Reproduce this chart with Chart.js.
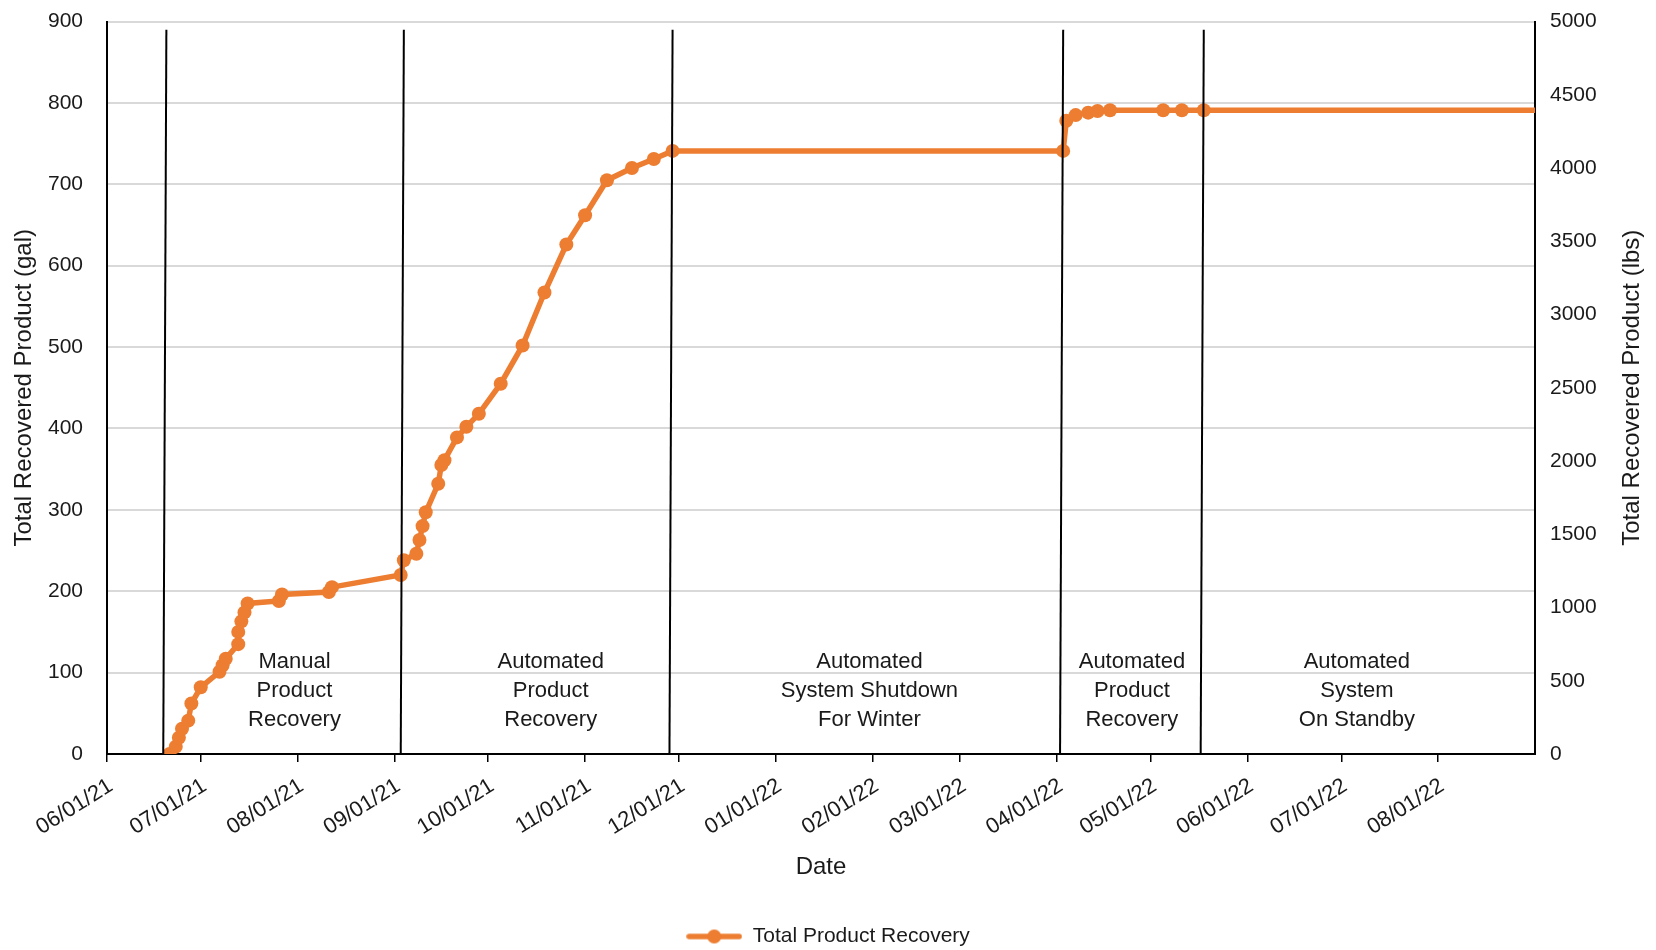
<!DOCTYPE html>
<html>
<head>
<meta charset="utf-8">
<script src="https://cdn.jsdelivr.net/npm/chart.js@4.4.0/dist/chart.umd.min.js"></script>
<style>
  html, body { margin: 0; padding: 0; background: #ffffff; }
  #wrap { width: 1656px; height: 950px; }
</style>
</head>
<body>
<div id="wrap"><canvas id="c" width="1656" height="950"></canvas></div>
<script>
// ---------------- DATA ----------------
const axisStartDate = '06/01/21';
const axisEndDate = '09/01/22';
const tickLabels = ['06/01/21','07/01/21','08/01/21','09/01/21','10/01/21','11/01/21','12/01/21',
                    '01/01/22','02/01/22','03/01/22','04/01/22','05/01/22','06/01/22','07/01/22','08/01/22'];

const seriesName = 'Total Product Recovery';
const recoveryDates = [
  '06/21/21','06/23/21','06/24/21','06/25/21','06/27/21','06/28/21','07/01/21','07/07/21','07/08/21','07/09/21',
  '07/13/21','07/13/21','07/14/21','07/15/21','07/16/21','07/26/21','07/27/21','08/11/21','08/12/21',
  '09/03/21','09/04/21','09/08/21','09/09/21','09/10/21','09/11/21','09/15/21','09/16/21','09/17/21',
  '09/21/21','09/24/21','09/28/21','10/05/21','10/12/21','10/19/21','10/26/21','11/01/21','11/08/21',
  '11/16/21','11/23/21','11/29/21','04/03/22','04/04/22','04/07/22','04/11/22','04/14/22','04/18/22',
  '05/05/22','05/11/22','05/18/22','09/01/22'
];
const recoveryGallons = [
  0, 9, 20, 31, 41, 62, 82, 101, 109, 117,
  135, 150, 163, 174, 185, 188, 196, 199, 205,
  220, 238, 246, 263, 280, 297, 332, 355, 361,
  389, 402, 418, 455, 502, 567, 626, 662, 705,
  720, 731, 741, 741, 778, 785, 788, 790, 791,
  791, 791, 791, 791
];

// phase divider lines (date at the bottom, date at the top, top value in gal)
const dividerBottomDates = ['06/19/21','09/03/21','11/28/21','04/02/22','05/17/22'];
const dividerTopDates    = ['06/20/21','09/04/21','11/29/21','04/03/22','05/18/22'];
const dividerTopGallons  = 890;

// phase labels
const phaseLabels = [
  ['Manual','Product','Recovery'],
  ['Automated','Product','Recovery'],
  ['Automated','System Shutdown','For Winter'],
  ['Automated','Product','Recovery'],
  ['Automated','System','On Standby']
];
const phaseLabelDates = ['07/31/21','10/21/21','01/31/22','04/25/22','07/06/22'];
const phaseLabelGallons = 113;

const leftAxisTitle = 'Total Recovered Product (gal)';
const rightAxisTitle = 'Total Recovered Product (lbs)';
const xAxisTitle = 'Date';
const galMax = 900, galStep = 100;
const lbsMax = 5000, lbsStep = 500;

// ---------------- HELPERS ----------------
function toDay(s) {
  const [m, d, y] = s.split('/').map(Number);
  const t = Date.UTC(2000 + y, m - 1, d);
  const [m0, d0, y0] = axisStartDate.split('/').map(Number);
  return Math.round((t - Date.UTC(2000 + y0, m0 - 1, d0)) / 86400000);
}
const FONT = "'Liberation Sans', Arial, sans-serif";
const ORANGE = '#ED7D31';
const TEXT = '#1a1a1a';

const mainData = recoveryDates.map((d, i) => ({ x: toDay(d), y: recoveryGallons[i] }));
const lastIdx = mainData.length - 1;

const datasets = [{
  label: seriesName,
  data: mainData,
  borderColor: ORANGE,
  backgroundColor: ORANGE,
  borderWidth: 5.5,
  pointRadius: ctx => ctx.dataIndex === lastIdx ? 0 : 7,
  pointHoverRadius: 7,
  pointBackgroundColor: ORANGE,
  pointBorderColor: ORANGE,
  pointBorderWidth: 0,
  tension: 0,
  yAxisID: 'y',
  order: 2
}];
dividerBottomDates.forEach((b, i) => {
  datasets.push({
    label: 'divider' + i,
    data: [{ x: toDay(b), y: 0 }, { x: toDay(dividerTopDates[i]), y: dividerTopGallons }],
    borderColor: '#000000',
    borderWidth: 2,
    pointRadius: 0,
    tension: 0,
    yAxisID: 'y',
    order: 1
  });
});

// legend symbol: line with a circle marker
const sym = document.createElement('canvas');
sym.width = 56; sym.height = 16;
(function () {
  const g = sym.getContext('2d');
  g.strokeStyle = ORANGE; g.lineWidth = 5.5; g.lineCap = 'round';
  g.beginPath(); g.moveTo(3, 8); g.lineTo(53, 8); g.stroke();
  g.fillStyle = ORANGE; g.beginPath(); g.arc(28, 8, 7, 0, Math.PI * 2); g.fill();
})();

const textPlugin = {
  id: 'phaseText',
  afterDatasetsDraw(chart) {
    const { ctx, scales } = chart;
    const x = scales.x, y = scales.y;
    ctx.save();
    ctx.fillStyle = TEXT;
    ctx.font = '22px ' + FONT;
    ctx.textAlign = 'center';
    ctx.textBaseline = 'middle';
    phaseLabels.forEach((lines, i) => {
      const px = x.getPixelForValue(toDay(phaseLabelDates[i]));
      const py = y.getPixelForValue(phaseLabelGallons);
      lines.forEach((t, j) => ctx.fillText(t, px, py + j * 29));
    });
    // right axis title, reading bottom to top
    const ry = (chart.chartArea.top + chart.chartArea.bottom) / 2;
    ctx.translate(1632, ry);
    ctx.rotate(-Math.PI / 2);
    ctx.font = '24px ' + FONT;
    ctx.fillText(rightAxisTitle, 0, 0);
    ctx.restore();
  }
};

new Chart(document.getElementById('c'), {
  type: 'line',
  data: { datasets },
  plugins: [textPlugin],
  options: {
    responsive: false,
    devicePixelRatio: 1,
    animation: false,
    layout: { padding: { top: 21.5, left: 0, right: 0, bottom: -7 } },
    plugins: {
      legend: {
        position: 'bottom',
        labels: {
          filter: item => item.datasetIndex === 0,
          usePointStyle: true,
          pointStyle: sym,
          pointStyleWidth: 56,
          padding: 4,
          color: TEXT,
          font: { family: FONT, size: 21 },
          generateLabels(chart) {
            return [{ text: seriesName, pointStyle: sym, datasetIndex: 0, fontColor: TEXT,
                      fillStyle: ORANGE, strokeStyle: ORANGE, lineWidth: 0, hidden: false }];
          }
        }
      },
      tooltip: { enabled: false }
    },
    scales: {
      x: {
        type: 'linear',
        position: 'bottom',
        min: toDay(axisStartDate),
        max: toDay(axisEndDate),
        afterBuildTicks: s => { s.ticks = tickLabels.map(l => ({ value: toDay(l) })); },
        afterFit: s => { s.height = 168; },
        ticks: {
          autoSkip: false,
          minRotation: 32,
          maxRotation: 32,
          padding: 11,
          labelOffset: 4,
          color: TEXT,
          font: { family: FONT, size: 22 },
          callback: v => { const i = tickLabels.findIndex(l => toDay(l) === v); return i >= 0 ? tickLabels[i] : ''; }
        },
        grid: { display: true, drawOnChartArea: false, drawTicks: true, tickLength: 8, color: '#000000', lineWidth: 1.5 },
        border: { display: true, color: '#000000', width: 2 },
        title: { display: true, text: xAxisTitle, color: TEXT, font: { family: FONT, size: 24 }, padding: { top: 0, bottom: 40.6 } }
      },
      y: {
        position: 'left',
        min: 0,
        max: galMax,
        afterFit: s => { s.width = 107; },
        ticks: { stepSize: galStep, padding: 3, color: TEXT, font: { family: FONT, size: 21 },
                 callback: v => String(v) },
        grid: { color: '#d9d9d9', lineWidth: 2, drawTicks: true, tickLength: 21, tickColor: 'rgba(0,0,0,0)' },
        border: { display: true, color: '#000000', width: 2 },
        title: { display: true, text: leftAxisTitle, color: TEXT, font: { family: FONT, size: 24 }, padding: { top: 10, bottom: 0 } }
      },
      y2: {
        position: 'right',
        min: 0,
        max: lbsMax,
        afterFit: s => { s.width = 121; },
        ticks: { stepSize: lbsStep, padding: 3, color: TEXT, font: { family: FONT, size: 21 },
                 callback: v => String(v) },
        grid: { display: true, drawOnChartArea: false, drawTicks: true, tickLength: 12, tickColor: 'rgba(0,0,0,0)', color: 'rgba(0,0,0,0)' },
        border: { display: true, color: '#000000', width: 2 }
      }
    }
  }
});
</script>
</body>
</html>
